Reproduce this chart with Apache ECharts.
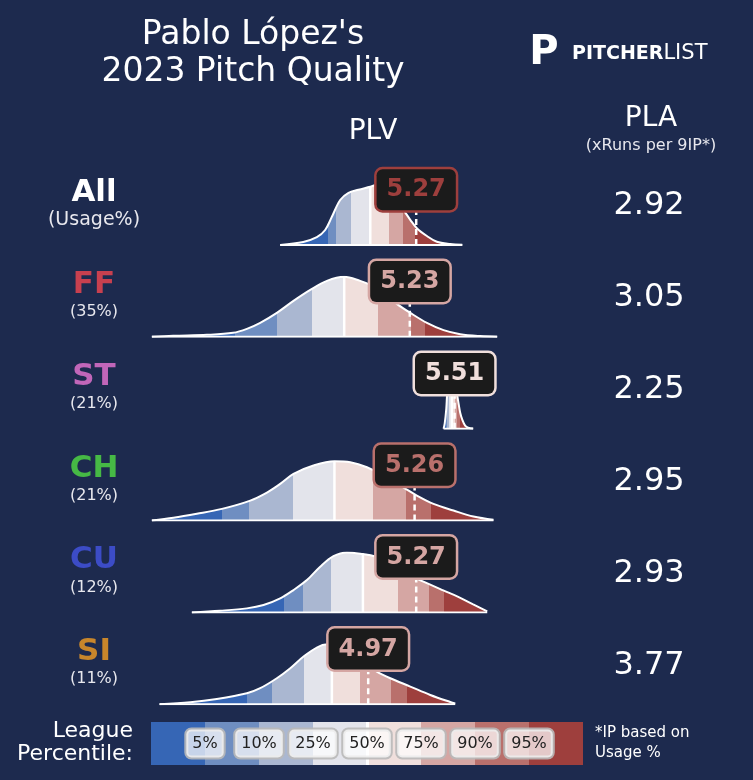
<!DOCTYPE html>
<html><head><meta charset="utf-8">
<script src="https://cdn.jsdelivr.net/npm/echarts@6/dist/echarts.min.js"></script>
<style>html,body{margin:0;padding:0;background:#1d2a4e;}#c{width:753px;height:780px;}</style>
</head><body><div id="c"></div>
<script>
// ---------- DATA ----------
const pitchNames = ['All', 'FF', 'ST', 'CH', 'CU', 'SI'];
const usageLabels = ['(Usage%)', '(35%)', '(21%)', '(21%)', '(12%)', '(11%)'];
const plvValues = [5.27, 5.23, 5.51, 5.26, 5.27, 4.97];
const plaValues = ['2.92', '3.05', '2.25', '2.95', '2.93', '3.77'];

// density curves [PLV, relative density]
const curveAll = [[4.420,0],[4.564,0.05],[4.649,0.13],[4.701,0.25],[4.743,0.47],[4.795,0.75],[4.847,0.87],[4.909,0.92],[4.983,0.97],[5.020,1.0],[5.076,0.98],[5.126,0.83],[5.181,0.62],[5.233,0.42],[5.274,0.28],[5.337,0.15],[5.399,0.055],[5.483,0.017],[5.558,0.005]];
const curveFF = [[3.618,0],[3.751,0.017],[3.962,0.033],[4.126,0.067],[4.212,0.133],[4.295,0.233],[4.399,0.4],[4.503,0.6],[4.608,0.783],[4.712,0.933],[4.82,1.0],[4.92,0.933],[4.983,0.867],[5.064,0.733],[5.149,0.55],[5.233,0.4],[5.337,0.233],[5.441,0.112],[5.545,0.045],[5.67,0.013],[5.776,0.003]];
const curveST = [[5.441,0],[5.448,0.083],[5.458,0.333],[5.464,0.6],[5.476,0.867],[5.492,1.0],[5.508,0.917],[5.524,0.6],[5.536,0.4],[5.545,0.267],[5.558,0.15],[5.576,0.05],[5.595,0.017],[5.626,0.005]];
const curveCH = [[3.618,0],[3.753,0.045],[3.899,0.112],[4.056,0.195],[4.233,0.333],[4.337,0.467],[4.42,0.612],[4.503,0.778],[4.628,0.917],[4.759,0.988],[4.858,0.972],[4.962,0.888],[5.076,0.733],[5.191,0.55],[5.274,0.417],[5.378,0.278],[5.503,0.167],[5.628,0.067],[5.753,0.012]];
const curveCU = [[3.868,0],[4.045,0.028],[4.212,0.067],[4.316,0.122],[4.42,0.233],[4.503,0.372],[4.587,0.538],[4.67,0.762],[4.753,0.938],[4.837,1.0],[4.937,0.972],[5.014,0.933],[5.108,0.833],[5.233,0.617],[5.326,0.5],[5.439,0.367],[5.526,0.267],[5.626,0.133],[5.714,0.017]];
const curveSI = [[3.666,0],[3.858,0.033],[4.024,0.088],[4.212,0.183],[4.295,0.267],[4.399,0.433],[4.483,0.6],[4.566,0.795],[4.649,0.945],[4.712,1.0],[4.795,0.967],[4.889,0.833],[4.983,0.633],[5.024,0.545],[5.108,0.433],[5.233,0.295],[5.358,0.155],[5.483,0.038],[5.514,0.013]];

// league percentiles (5,10,25,50,75,90,95) in PLV
const pctAll = [4.72, 4.77, 4.864, 4.983, 5.101, 5.189, 5.265];
const pctFF = [4.139, 4.399, 4.618, 4.82, 5.033, 5.236, 5.326];
const pctST = [5.454, 5.461, 5.473, 5.493, 5.514, 5.528, 5.541];
const pctCH = [4.056, 4.228, 4.503, 4.759, 4.997, 5.206, 5.362];
const pctCU = [4.441, 4.562, 4.737, 4.937, 5.159, 5.347, 5.441];
const pctSI = [4.212, 4.368, 4.566, 4.743, 4.916, 5.112, 5.212];
const medianHeights = [0.967, 1.0, 0.98, 0.988, 0.972, 0.995];

const legendTicks = ['5%', '10%', '25%', '50%', '75%', '90%', '95%'];

// ---------- STYLE ----------
const BG = '#1d2a4e';
const FONT = '"DejaVu Sans", sans-serif';
const bandColors = ['#3666b5', '#6f8ec1', '#aab7d1', '#e3e4eb', '#f0dfdc', '#d5a6a3', '#b9706c', '#9e3f3d'];
const nameColors = ['#ffffff', '#c8404f', '#c166b9', '#46b945', '#3c4cc6', '#c8862b'];

const pitchCurves = [curveAll, curveFF, curveST, curveCH, curveCU, curveSI];
const pitchPct = [pctAll, pctFF, pctST, pctCH, pctCU, pctSI];

const X_MIN = 3.5, X_MAX = 6.0, GRID_LEFT = 133, GRID_W = 400;
const ROW0 = 245, ROW_STEP = 91.85, PEAK_PX = 60, LABEL_LEVEL = 0.58;
const SMOOTH = 0.35;

function bandColorFor(v, pct) {
  let k = 0;
  while (k < pct.length && v >= pct[k]) k++;
  return bandColors[k];
}

const grids = [], xAxes = [], yAxes = [], series = [], visualMaps = [], graphics = [];

pitchNames.forEach((name, i) => {
  const base = ROW0 + i * ROW_STEP;
  grids.push({ left: GRID_LEFT, width: GRID_W, top: base - PEAK_PX, height: PEAK_PX });
  xAxes.push({ type: 'value', gridIndex: i, min: X_MIN, max: X_MAX, show: false });
  yAxes.push({ type: 'value', gridIndex: i, min: 0, max: 1, show: false });
  const curve = pitchCurves[i], pct = pitchPct[i];
  const sIdx = series.length;
  // filled density (coloured by league percentile)
  series.push({
    type: 'line', xAxisIndex: i, yAxisIndex: i, data: curve,
    smooth: SMOOTH, symbol: 'none', showSymbol: false,
    lineStyle: { width: 0, opacity: 0 }, areaStyle: { opacity: 1 }, z: 2, silent: true
  });
  const pieces = [{ lt: pct[0], color: bandColors[0] }];
  for (let k = 1; k < pct.length; k++) pieces.push({ gte: pct[k - 1], lt: pct[k], color: bandColors[k] });
  pieces.push({ gte: pct[pct.length - 1], color: bandColors[pct.length] });
  visualMaps.push({ type: 'piecewise', show: false, seriesIndex: sIdx, dimension: 0, pieces });
  // median
  series.push({
    type: 'line', xAxisIndex: i, yAxisIndex: i, symbol: 'none', silent: true, z: 3,
    data: [[pct[3], 0], [pct[3], medianHeights[i]]],
    lineStyle: { color: '#ffffff', width: 2.5 }
  });
  // white outline
  series.push({
    type: 'line', xAxisIndex: i, yAxisIndex: i, data: curve,
    smooth: SMOOTH, symbol: 'none', showSymbol: false, silent: true, z: 4,
    lineStyle: { color: '#ffffff', width: 2 }, itemStyle: { color: '#ffffff' }
  });
  // baseline
  series.push({
    type: 'line', xAxisIndex: i, yAxisIndex: i, symbol: 'none', silent: true, z: 4,
    data: [[curve[0][0], 0], [curve[curve.length - 1][0], 0]],
    lineStyle: { color: '#ffffff', width: 2 }
  });
  // pitch value dashed line
  series.push({
    type: 'line', xAxisIndex: i, yAxisIndex: i, symbol: 'none', silent: true, z: 5,
    data: [[plvValues[i], 0], [plvValues[i], LABEL_LEVEL]],
    lineStyle: { color: '#ffffff', width: 2.5, type: [6, 4] }
  });
  const lc = bandColorFor(plvValues[i], pct);
  series.push({
    type: 'scatter', xAxisIndex: i, yAxisIndex: i, symbolSize: 0, silent: true, z: 10,
    itemStyle: { opacity: 1 },
    data: [[plvValues[i], LABEL_LEVEL]],
    label: {
      show: true, position: 'top', distance: 0, opacity: 1,
      formatter: plvValues[i].toFixed(2),
      color: lc, fontFamily: FONT, fontSize: 24, fontWeight: 'bold',
      backgroundColor: '#1b1b1b', borderColor: lc, borderWidth: 2.5, borderRadius: 6,
      padding: [8, 10, 7, 10], lineHeight: 26
    }
  });
  // row texts
  graphics.push({
    type: 'text', x: 94, y: base - 52,
    style: { text: name, fill: nameColors[i], fontSize: 31, fontWeight: 'bold', fontFamily: FONT, align: 'center', verticalAlign: 'middle' }
  });
  graphics.push({
    type: 'text', x: 94, y: base - 25,
    style: { text: usageLabels[i], fill: '#e8e8ee', fontSize: i === 0 ? 19 : 16, fontFamily: FONT, align: 'center', verticalAlign: 'middle' }
  });
  graphics.push({
    type: 'text', x: 649, y: base - 39,
    style: { text: plaValues[i], fill: '#ffffff', fontSize: 32, fontFamily: FONT, align: 'center', verticalAlign: 'middle' }
  });
});

// legend color bar
const LG = pitchNames.length;
grids.push({ left: 151, width: 432, top: 722, height: 43 });
xAxes.push({ type: 'value', gridIndex: LG, min: 0, max: bandColors.length, show: false });
yAxes.push({ type: 'category', gridIndex: LG, data: ['p'], show: false });
bandColors.forEach((c, k) => {
  series.push({
    type: 'bar', xAxisIndex: LG, yAxisIndex: LG, stack: 'legend', data: [1], barWidth: '100%',
    itemStyle: { color: c }, silent: true, z: 2,
    markLine: k === 0 ? {
      symbol: 'none', silent: true, label: { show: false },
      lineStyle: { color: '#ffffff', width: 3, type: 'solid' },
      data: [{ xAxis: bandColors.length / 2 }]
    } : undefined
  });
});
series.push({
  type: 'scatter', xAxisIndex: LG, yAxisIndex: LG, symbolSize: 0, silent: true, z: 10,
  itemStyle: { opacity: 1 },
  data: legendTicks.map((t, k) => [k + 1, 0]),
  label: {
    show: true, position: 'inside', opacity: 1,
    formatter: p => legendTicks[p.dataIndex],
    color: '#222', fontFamily: FONT, fontSize: 16,
    backgroundColor: 'rgba(255,255,255,0.72)', borderColor: 'rgba(185,185,185,0.9)', borderWidth: 2, borderRadius: 5,
    padding: [5, 6, 4, 6], lineHeight: 19
  }
});

// static texts
graphics.push(
  { type: 'text', x: 253, y: 35, style: { text: "Pablo López's", fill: '#fff', fontSize: 33, fontFamily: FONT, align: 'center', verticalAlign: 'middle' } },
  { type: 'text', x: 253, y: 72, style: { text: '2023 Pitch Quality', fill: '#fff', fontSize: 33, fontFamily: FONT, align: 'center', verticalAlign: 'middle' } },
  { type: 'text', x: 544, y: 54, style: { text: 'P', fill: '#fff', fontSize: 40, fontWeight: 'bold', fontFamily: FONT, align: 'center', verticalAlign: 'middle' } },
  { type: 'text', x: 572, y: 54, style: { text: '{b|PITCHER}{l|LIST}', verticalAlign: 'middle', align: 'left',
      rich: { b: { fill: '#fff', fontSize: 19, fontWeight: 'bold', fontFamily: FONT }, l: { fill: '#fff', fontSize: 21, fontFamily: FONT } } } },
  { type: 'text', x: 373, y: 132, style: { text: 'PLV', fill: '#fff', fontSize: 28, fontFamily: FONT, align: 'center', verticalAlign: 'middle' } },
  { type: 'text', x: 651, y: 119, style: { text: 'PLA', fill: '#fff', fontSize: 28, fontFamily: FONT, align: 'center', verticalAlign: 'middle' } },
  { type: 'text', x: 651, y: 146, style: { text: '(xRuns per 9IP*)', fill: '#e8e8ee', fontSize: 16, fontFamily: FONT, align: 'center', verticalAlign: 'middle' } },
  { type: 'text', x: 133, y: 743, style: { text: 'League\nPercentile:', fill: '#fff', fontSize: 22, lineHeight: 23, fontFamily: FONT, align: 'right', verticalAlign: 'middle' } },
  { type: 'text', x: 595, y: 743, style: { text: '*IP based on\nUsage %', fill: '#fff', fontSize: 15, lineHeight: 20, fontFamily: FONT, align: 'left', verticalAlign: 'middle' } }
);

const chart = echarts.init(document.getElementById('c'), null, { renderer: 'canvas' });
chart.setOption({
  backgroundColor: BG,
  animation: false,
  grid: grids, xAxis: xAxes, yAxis: yAxes,
  visualMap: visualMaps,
  series: series,
  graphic: graphics
});
</script></body></html>
